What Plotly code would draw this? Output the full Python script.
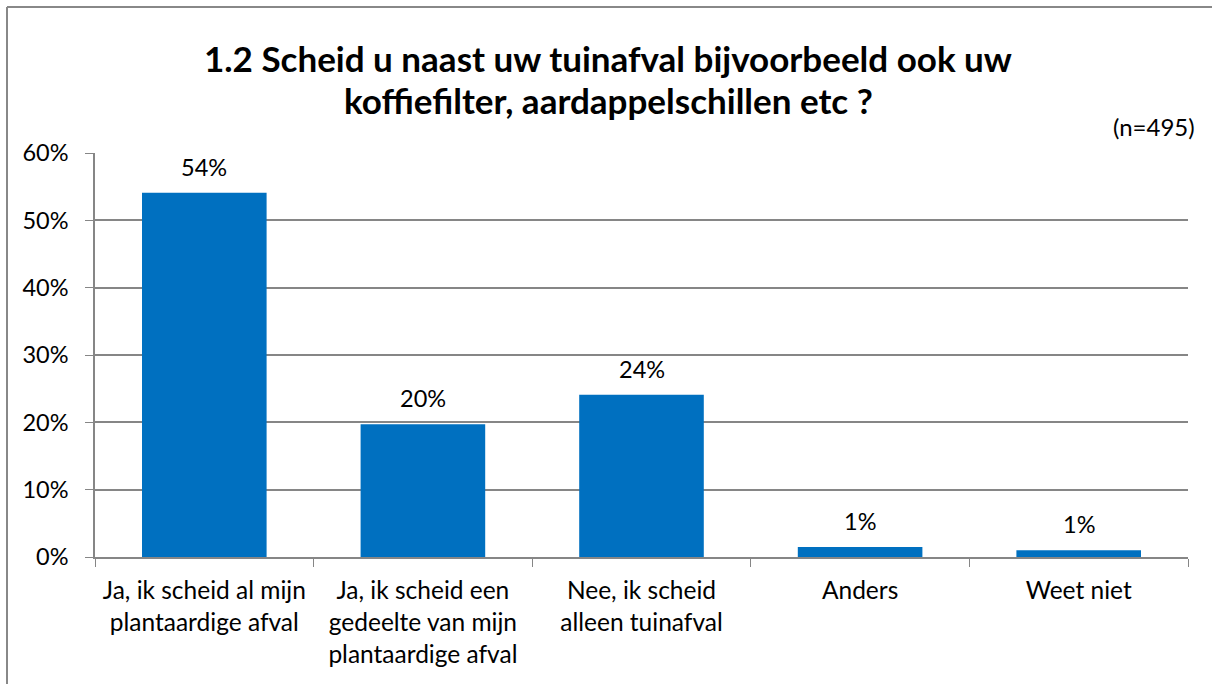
import plotly.graph_objects as go

categories = [
    "Ja, ik scheid al mijn<br>plantaardige afval",
    "Ja, ik scheid een<br>gedeelte van mijn<br>plantaardige afval",
    "Nee, ik scheid<br>alleen tuinafval",
    "Anders",
    "Weet niet",
]
values = [0.541, 0.197, 0.241, 0.015, 0.010]
labels = ["54%", "20%", "24%", "1%", "1%"]
y_ticks = [0, 0.1, 0.2, 0.3, 0.4, 0.5, 0.6]
title_lines = ["1.2 Scheid u naast uw tuinafval bijvoorbeeld ook uw",
               "koffiefilter, aardappelschillen etc ?"]
n_text = "(n=495)"

FONT = "Lato"
BAR = "#0070C0"
GRID = "#868686"

fig = go.Figure()
fig.add_trace(go.Bar(
    x=categories, y=values, marker=dict(color=BAR, line=dict(width=0)),
    hoverinfo="skip",
))

for c, v, t in zip(categories, values, labels):
    fig.add_annotation(x=c, y=v, text=t, showarrow=False, yanchor="bottom",
                       yshift=10, font=dict(family=FONT, size=23.5, color="black"))

W, H = 1212, 684
L, R, T, B = 95, 24, 153, 127
pw, ph = W - L - R, H - T - B

def px_x(x):
    return (x - L) / pw

def px_y(y):
    return (H - B - y) / ph

# outer chart border (top and left edges visible)
fig.add_shape(type="line", xref="paper", yref="paper",
              x0=px_x(7), x1=px_x(1212), y0=px_y(7), y1=px_y(7),
              line=dict(color="#888888", width=2), layer="below")
fig.add_shape(type="line", xref="paper", yref="paper",
              x0=px_x(7), x1=px_x(7), y0=px_y(7), y1=px_y(684),
              line=dict(color="#888888", width=2), layer="below")

for line_text, yc in zip(title_lines, [58, 100]):
    fig.add_annotation(xref="paper", yref="paper", x=px_x(608), y=px_y(yc),
                       text="<b>" + line_text + "</b>", showarrow=False,
                       xanchor="center", yanchor="middle",
                       font=dict(family=FONT, size=35, color="black"))
fig.add_annotation(xref="paper", yref="paper", x=px_x(1197), y=px_y(127),
                   text=n_text, showarrow=False, xanchor="right", yanchor="middle",
                   font=dict(family=FONT, size=24, color="black"))

fig.update_layout(
    width=W, height=H,
    margin=dict(l=L, r=R, t=T, b=B, pad=0),
    paper_bgcolor="white", plot_bgcolor="white",
    showlegend=False, bargap=0.43,
    font=dict(family=FONT, size=24, color="black"),
)
fig.update_xaxes(
    type="category", tickson="boundaries", ticks="outside", ticklen=8,
    tickcolor=GRID, showline=True, linecolor=GRID, linewidth=1.5,
    showgrid=False, tickfont=dict(family=FONT, size=24.5, color="black"),
    ticklabelstandoff=11,
)
fig.update_yaxes(
    range=[0, 0.6], tickvals=y_ticks, tickformat=".0%", ticks="outside", ticklen=8,
    tickcolor=GRID, showline=True, linecolor=GRID, linewidth=1.5,
    showgrid=True, gridcolor=GRID, gridwidth=1.5, zeroline=False,
    tickfont=dict(family=FONT, size=23.5, color="black"),
    ticklabelstandoff=12,
)

fig.write_html("out.html", config={"displayModeBar": False},
               post_script="document.body.style.margin='0';document.body.style.overflow='hidden';")
